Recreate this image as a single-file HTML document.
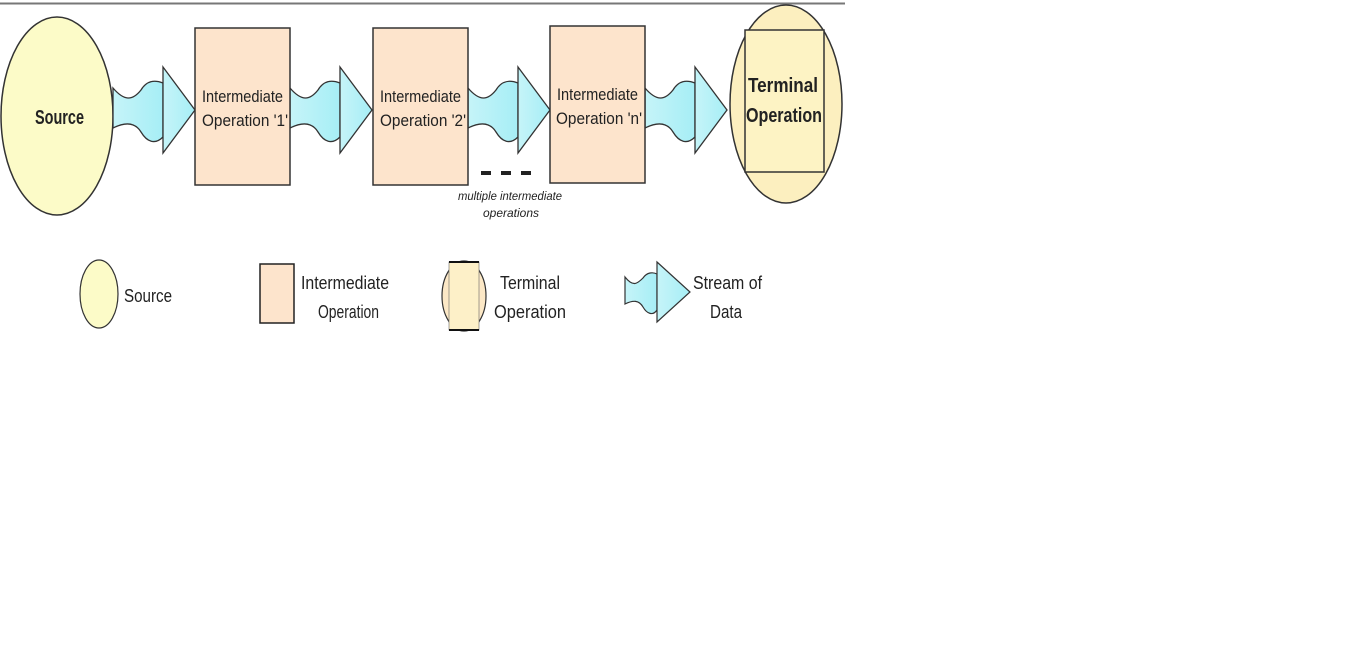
<!DOCTYPE html>
<html><head><meta charset="utf-8"><style>
html,body{margin:0;padding:0;background:#fff;width:1360px;height:650px;overflow:hidden}
svg{display:block}
text{font-family:"Liberation Sans",sans-serif;fill:#222}
</style></head><body>
<svg width="1360" height="650" viewBox="0 0 1360 650">
<defs>
<linearGradient id="ag" x1="0" x2="1"><stop offset="0" stop-color="#c6f4f8"/><stop offset="1" stop-color="#a6eef6"/></linearGradient>
</defs>
<line x1="0" y1="3.5" x2="845" y2="3.5" stroke="#777" stroke-width="2"/>

<g>
<ellipse cx="57" cy="116" rx="56" ry="99" fill="#fcfbc8" stroke="#333" stroke-width="1.5"/>
<text x="35" y="124" font-size="20" font-weight="bold" textLength="49" lengthAdjust="spacingAndGlyphs">Source</text>
</g>

<g id="arrows"></g>

<g>
<rect x="195" y="28" width="95" height="157" fill="#fde4cc" stroke="#333" stroke-width="1.5"/>
<text x="202" y="102" font-size="17" textLength="81" lengthAdjust="spacingAndGlyphs">Intermediate</text>
<text x="202" y="126" font-size="17" textLength="86" lengthAdjust="spacingAndGlyphs">Operation '1'</text>
</g>
<g>
<rect x="373" y="28" width="95" height="157" fill="#fde4cc" stroke="#333" stroke-width="1.5"/>
<text x="380" y="102" font-size="17" textLength="81" lengthAdjust="spacingAndGlyphs">Intermediate</text>
<text x="380" y="126" font-size="17" textLength="86" lengthAdjust="spacingAndGlyphs">Operation '2'</text>
</g>
<g>
<rect x="550" y="26" width="95" height="157" fill="#fde4cc" stroke="#333" stroke-width="1.5"/>
<text x="557" y="100" font-size="17" textLength="81" lengthAdjust="spacingAndGlyphs">Intermediate</text>
<text x="556" y="124" font-size="17" textLength="86" lengthAdjust="spacingAndGlyphs">Operation 'n'</text>
</g>

<g>
<rect x="481" y="171" width="10" height="4" fill="#222"/>
<rect x="501" y="171" width="10" height="4" fill="#222"/>
<rect x="521" y="171" width="10" height="4" fill="#222"/>
<text x="458" y="200" font-size="12" font-style="italic" fill="#444" textLength="104" lengthAdjust="spacingAndGlyphs">multiple intermediate</text>
<text x="483" y="217" font-size="12" font-style="italic" fill="#444" textLength="56" lengthAdjust="spacingAndGlyphs">operations</text>
</g>

<g>
<ellipse cx="786" cy="104" rx="56" ry="99" fill="#fcefbf" stroke="#333" stroke-width="1.5"/>
<rect x="745" y="30" width="79" height="142" fill="#fdf3c4" stroke="#333" stroke-width="1.5"/>
<text x="748" y="92" font-size="20" font-weight="bold" textLength="70" lengthAdjust="spacingAndGlyphs">Terminal</text>
<text x="746" y="122" font-size="20" font-weight="bold" textLength="76" lengthAdjust="spacingAndGlyphs">Operation</text>
</g>

<g>
<g>
<ellipse cx="99" cy="294" rx="19" ry="34" fill="#fcfbc8" stroke="#333" stroke-width="1.2"/>
<text x="124" y="302" font-size="18" textLength="48" lengthAdjust="spacingAndGlyphs">Source</text>
</g>
<g>
<rect x="260" y="264" width="34" height="59" fill="#fde4cc" stroke="#222" stroke-width="1.5"/>
<text x="301" y="289" font-size="18" textLength="88" lengthAdjust="spacingAndGlyphs">Intermediate</text>
<text x="318" y="318" font-size="18" textLength="61" lengthAdjust="spacingAndGlyphs">Operation</text>
</g>
<g>
<ellipse cx="464" cy="296" rx="22" ry="35" fill="#fce8c6" stroke="#333" stroke-width="1.2"/>
<rect x="449" y="262" width="30" height="68" fill="#fdf0c8" stroke="#666" stroke-width="0.6"/>
<line x1="449" y1="262" x2="479" y2="262" stroke="#111" stroke-width="2"/>
<line x1="449" y1="330" x2="479" y2="330" stroke="#111" stroke-width="2"/>
<text x="500" y="289" font-size="18" textLength="60" lengthAdjust="spacingAndGlyphs">Terminal</text>
<text x="494" y="318" font-size="18" textLength="72" lengthAdjust="spacingAndGlyphs">Operation</text>
</g>
<g transform="translate(625,292)">
<path d="M0,-15 C8,-5 12,-8 18,-14 C22,-20 28,-20 32,-18 L32,18 C28,24 22,22 18,15 C14,8 8,8 0,12 Z" fill="url(#ag)" stroke="#333" stroke-width="1.2"/>
<path d="M32,-30 L65,0 L32,30 Z" fill="url(#ag)" stroke="#333" stroke-width="1.2"/>
</g>
<text x="693" y="289" font-size="18" textLength="69" lengthAdjust="spacingAndGlyphs">Stream of</text>
<text x="710" y="318" font-size="18" textLength="32" lengthAdjust="spacingAndGlyphs">Data</text>
</g>
</svg>
<script>
const arrowStarts=[113,290,468,645];
const g=document.getElementById('arrows');
const ns='http://www.w3.org/2000/svg';
arrowStarts.forEach((x,i)=>{
  const a=document.createElementNS(ns,'g');
  
  
  a.setAttribute('transform','translate('+x+',110)');
  const b=document.createElementNS(ns,'path');
  b.setAttribute('d','M0,-22 C12,-8 20,-10 28,-20 C34,-30 42,-30 50,-27 L50,27 C42,35 34,32 28,22 C22,12 12,12 0,18 Z');
  b.setAttribute('fill','url(#ag)');b.setAttribute('stroke','#333');b.setAttribute('stroke-width','1.3');
  const t=document.createElementNS(ns,'path');
  t.setAttribute('d','M50,-43 L82,0 L50,43 Z');
  t.setAttribute('fill','url(#ag)');t.setAttribute('stroke','#333');t.setAttribute('stroke-width','1.3');
  a.appendChild(b);a.appendChild(t);g.appendChild(a);
});
</script>
</body></html>
